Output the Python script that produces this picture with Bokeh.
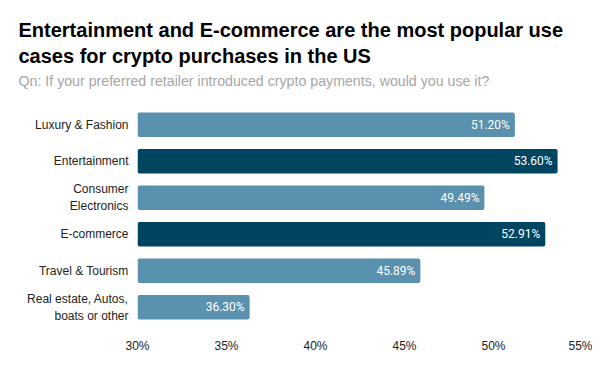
from bokeh.plotting import figure
from bokeh.models import ColumnDataSource, FactorRange, Title, FixedTicker
from bokeh.core.properties import value
from bokeh.embed import file_html
from bokeh.resources import INLINE

categories = ["Luxury & Fashion", "Entertainment", "Consumer\nElectronics", "E-commerce",
              "Travel & Tourism", "Real estate, Autos,\nboats or other"]
values = [51.20, 53.60, 49.49, 52.91, 45.89, 36.30]
highlight = [False, True, False, True, False, False]
tick_values = [30, 35, 40, 45, 50, 55]

LIGHT = "#5A91AE"
DARK = "#00455F"
colors = [DARK if h else LIGHT for h in highlight]
labels = ["%.2f%%" % v for v in values]

src = ColumnDataSource(dict(cat=categories, val=values, color=colors, label=labels))

p = figure(width=592, height=355, output_backend="svg", toolbar_location=None,
           y_range=FactorRange(factors=list(reversed(categories))),
           x_range=(30, 55), min_border_left=137, min_border_right=10,
           min_border_top=0, min_border_bottom=0)

p.hbar(y="cat", right="val", left=30, height=0.67, color="color", source=src,
       line_color=None, border_radius=2)
p.text(x="val", y="cat", text="label", source=src, x_offset=-5, text_align="right",
       text_baseline="middle", text_color="white", text_font=value("Roboto"),
       text_font_size="12px")

p.xaxis.ticker = FixedTicker(ticks=tick_values)
p.xaxis.major_label_overrides = {t: "%d%%" % t for t in tick_values}
for ax in (p.xaxis[0], p.yaxis[0]):
    ax.axis_line_color = None
    ax.major_tick_line_color = None
    ax.minor_tick_line_color = None
    ax.major_label_text_font = "Liberation Sans"
    ax.major_label_text_font_size = "12px"
    ax.major_label_text_color = "#222222"
p.xaxis.major_label_standoff = 7
p.yaxis.major_label_standoff = 3

p.xgrid.grid_line_color = None
p.ygrid.grid_line_color = None
p.outline_line_color = None

OFF = -119
spacer_bottom = Title(text=" ", text_font_size="12px", standoff=0)
sub = Title(text="Qn: If your preferred retailer introduced crypto payments, would you use it?",
            text_font="Liberation Sans", text_font_size="14.2px", text_color="#A6A6A6",
            text_font_style="normal", offset=OFF, standoff=3)
t2 = Title(text="cases for crypto purchases in the US", text_font="Liberation Sans",
           text_font_size="20px", text_font_style="bold", text_color="#000000", offset=OFF, standoff=5)
t1 = Title(text="Entertainment and E-commerce are the most popular use", text_font="Liberation Sans",
           text_font_size="20px", text_font_style="bold", text_color="#000000", offset=OFF, standoff=0)
spacer_top = Title(text=" ", text_font_size="12px", standoff=0)
p.add_layout(spacer_bottom, "above")
p.add_layout(sub, "above")
p.add_layout(t2, "above")
p.add_layout(t1, "above")
p.add_layout(spacer_top, "above")
p.title.visible = False

open("out.html", "w").write(file_html(p, INLINE))
